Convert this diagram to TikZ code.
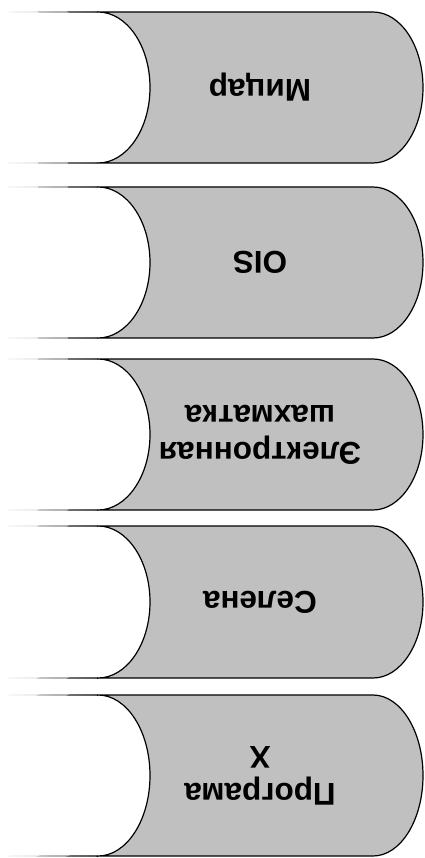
\documentclass[tikz,border=0pt]{standalone}
\usepackage{fontspec}
\setmainfont{Liberation Sans}
\definecolor{shapegray}{HTML}{C0C0C0}
\tikzset{
  storebox/.style={fill=shapegray, draw=black, line width=1.2pt, line join=round},
  lbl/.style={font=\bfseries\fontsize{31.5}{37}\selectfont, align=center, rotate=180, inner sep=0pt},
  taper/.style={left color=black!25, right color=black, middle color=black!80},
}
\begin{document}
\begin{tikzpicture}[x=1pt,y=-1pt]
\useasboundingbox (0,0) rectangle (424,858);
\foreach \t/\b/\n/\txt in {12/163/a/Мицар, 187/338/b/OIS, 359/510/c/{Электронная\\шахматка}, 526/678/d/Селена, 695/856/e/{Програма\\X}} {
  \pgfmathsetmacro{\m}{(\t+\b)/2}
  \pgfmathsetmacro{\k}{0.5523*(\b-\t)/2}
  % tapered lines on the left
  \shade[taper] (8,\t) -- (98,{\t-0.75}) -- (98,{\t+0.75}) -- cycle;
  \shade[taper] (8,\b) -- (98,{\b-0.75}) -- (98,{\b+0.75}) -- cycle;
  % main shape
  \draw[storebox] (98,\t) -- (373,\t)
    .. controls ({373+27.6},\t) and (423,{\m-\k}) .. (423,\m)
    .. controls (423,{\m+\k}) and ({373+27.6},\b) .. (373,\b)
    -- (98,\b)
    .. controls ({98+28.7},\b) and (150,{\m+\k}) .. (150,\m)
    .. controls (150,{\m-\k}) and ({98+28.7},\t) .. (98,\t) -- cycle;
  \node[lbl] (lbl\n) at (260,\m) {\txt};
}
\end{tikzpicture}
\end{document}
